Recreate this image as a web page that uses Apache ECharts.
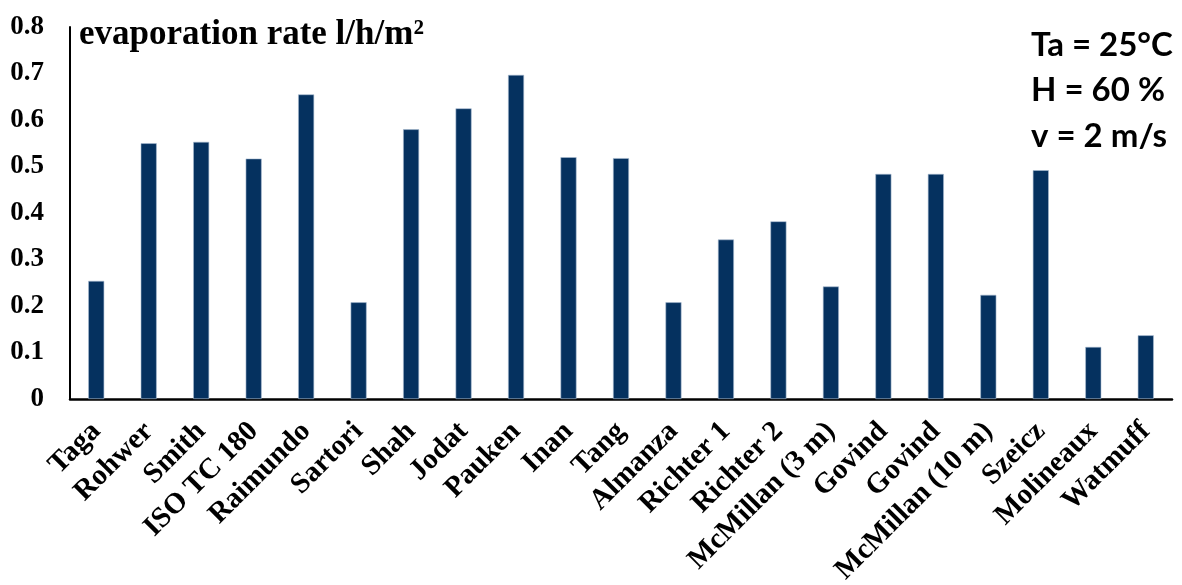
<!DOCTYPE html>
<html>
<head>
<meta charset="utf-8">
<script src="https://cdn.jsdelivr.net/npm/echarts@6/dist/echarts.min.js"></script>
<style>
html,body{margin:0;padding:0;background:#fff;}
#c{width:1182px;height:585px;}
</style>
</head>
<body>
<div id="c"></div>
<script>
const categories = ['Taga','Rohwer','Smith','ISO TC 180','Raimundo','Sartori','Shah','Jodat','Pauken','Inan','Tang','Almanza','Richter 1','Richter 2','McMillan (3 m)','Govind','Govind','McMillan (10 m)','Szeicz','Molineaux','Watmuff'];
const rates = [0.254,0.550,0.553,0.517,0.655,0.208,0.580,0.625,0.697,0.520,0.518,0.208,0.343,0.382,0.242,0.484,0.484,0.224,0.492,0.112,0.137];
const yTicks = [0,0.1,0.2,0.3,0.4,0.5,0.6,0.7,0.8];
const titleText = 'evaporation rate l/h/m²';
const conditions = ['Ta = 25°C','H = 60 %','v = 2 m/s'];

const serif = '"Liberation Serif","Times New Roman",serif';
const sans = 'Lato, "Open Sans", sans-serif';
const chart = echarts.init(document.getElementById('c'), null, {renderer:'canvas'});
chart.setOption({
  animation:false,
  backgroundColor:'#ffffff',
  grid:{left:70,right:10,top:27,bottom:186,containLabel:false,outerBoundsMode:'none'},
  xAxis:{
    type:'category',
    data:categories,
    axisLine:{show:true,lineStyle:{color:'#000',width:2.5}},
    axisTick:{show:false},
    axisLabel:{interval:0,rotate:45,margin:28,fontFamily:serif,fontWeight:'bold',fontSize:29,color:'#000'}
  },
  yAxis:{
    type:'value',
    min:0,max:0.8,interval:0.1,
    axisLine:{show:true,lineStyle:{color:'#000',width:2}},
    axisTick:{show:false},
    splitLine:{show:false},
    axisLabel:{margin:26,fontFamily:serif,fontWeight:'bold',fontSize:27,color:'#000',
      formatter:function(v){const t=yTicks.find(x=>Math.abs(x-v)<1e-9);return t===0?'0':String(t);}}
  },
  series:[{
    type:'bar',
    data:rates,
    barWidth:16,
    itemStyle:{color:'#05315F',borderColor:'#a9bcd2',borderWidth:0.6}
  }],
  graphic:[
    {type:'text',left:79,top:17,style:{text:titleText,font:'bold 35px '+serif,fill:'#000'}},
    {type:'text',x:1031,y:45,style:{text:conditions[0],font:'bold 33px '+sans,fill:'#000',verticalAlign:'middle',align:'left'}},
    {type:'text',x:1031,y:90,style:{text:conditions[1],font:'bold 33px '+sans,fill:'#000',verticalAlign:'middle',align:'left'}},
    {type:'text',x:1031,y:136,style:{text:conditions[2],font:'bold 33px '+sans,fill:'#000',verticalAlign:'middle',align:'left'}}
  ]
});
</script>
</body>
</html>
